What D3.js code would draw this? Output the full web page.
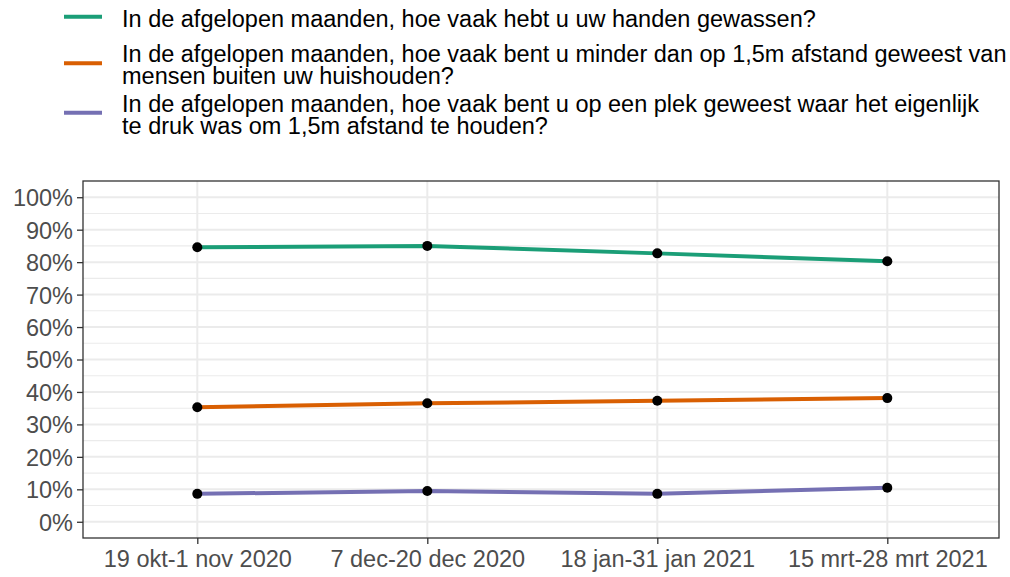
<!DOCTYPE html>
<html>
<head>
<meta charset="utf-8">
<script src="https://cdn.jsdelivr.net/npm/d3@7"></script>
<style>
  body { margin: 0; background: #fff; }
  svg { font-family: "Liberation Sans", Arial, sans-serif; }
  .grid line { stroke: #ebebeb; }
</style>
</head>
<body>
<div id="chart"></div>
<script>
// survey waves (x categories)
var waves = ["19 okt-1 nov 2020", "7 dec-20 dec 2020", "18 jan-31 jan 2021", "15 mrt-28 mrt 2021"];

// questions (legend), each a list of text lines
var questions = [
  ["In de afgelopen maanden, hoe vaak hebt u uw handen gewassen?"],
  ["In de afgelopen maanden, hoe vaak bent u minder dan op 1,5m afstand geweest van", "mensen buiten uw huishouden?"],
  ["In de afgelopen maanden, hoe vaak bent u op een plek geweest waar het eigenlijk", "te druk was om 1,5m afstand te houden?"]
];

// percentages per question, per wave
var handen = [84.6, 85.0, 82.7, 80.3];
var afstand = [35.3, 36.5, 37.3, 38.1];
var drukte = [8.6, 9.5, 8.6, 10.5];
var series = [handen, afstand, drukte];

var yTicks = [0, 10, 20, 30, 40, 50, 60, 70, 80, 90, 100];
var yMinor = [5, 15, 25, 35, 45, 55, 65, 75, 85, 95];

var colors = ["#1b9e77", "#d95f02", "#7570b3"];

var width = 1010, height = 577;
var pLeft = 83, pRight = 999, pTop = 181, pBottom = 538;

var svg = d3.select("#chart").append("svg").attr("width", width).attr("height", height);

var x = d3.scaleLinear().domain([0, 3]).range([197.3, 887.3]);
var y = d3.scaleLinear().domain([-5, 105]).range([pBottom, pTop]);

// grid
var grid = svg.append("g").attr("class", "grid");
grid.selectAll("line.minor").data(yMinor).enter().append("line").attr("class", "minor")
  .attr("x1", pLeft).attr("x2", pRight).attr("y1", function(d) { return y(d); }).attr("y2", function(d) { return y(d); })
  .attr("stroke-width", 1.1);
grid.selectAll("line.major").data(yTicks).enter().append("line").attr("class", "major")
  .attr("x1", pLeft).attr("x2", pRight).attr("y1", function(d) { return y(d); }).attr("y2", function(d) { return y(d); })
  .attr("stroke-width", 2);
grid.selectAll("line.vert").data(waves).enter().append("line").attr("class", "vert")
  .attr("y1", pTop).attr("y2", pBottom).attr("x1", function(d, i) { return x(i); }).attr("x2", function(d, i) { return x(i); })
  .attr("stroke-width", 2);

// lines + points
var line = d3.line().x(function(d, i) { return x(i); }).y(function(d) { return y(d); });
svg.append("g").selectAll("path").data(series).enter().append("path")
  .attr("d", line).attr("fill", "none").attr("stroke-width", 4)
  .attr("stroke", function(d, i) { return colors[i]; });

svg.append("g").selectAll("g").data(series).enter().append("g")
  .selectAll("circle").data(function(d) { return d; }).enter().append("circle")
  .attr("cx", function(d, i) { return x(i); }).attr("cy", function(d) { return y(d); })
  .attr("r", 5).attr("fill", "#000");

// panel border
svg.append("rect").attr("x", pLeft).attr("y", pTop).attr("width", pRight - pLeft).attr("height", pBottom - pTop)
  .attr("fill", "none").attr("stroke", "#333").attr("stroke-width", 1.3);

// axes
var yAxis = svg.append("g").attr("transform", "translate(" + pLeft + ",0)")
  .call(d3.axisLeft(y).tickValues(yTicks).tickSize(6).tickPadding(4).tickFormat(function(d) { return d + "%"; }));
var xAxis = svg.append("g").attr("transform", "translate(0," + pBottom + ")")
  .call(d3.axisBottom(x).tickValues([0, 1, 2, 3]).tickSize(6).tickPadding(4).tickFormat(function(i) { return waves[i]; }));
[yAxis, xAxis].forEach(function(a) {
  a.select(".domain").remove();
  a.selectAll(".tick line").attr("stroke", "#333").attr("stroke-width", 1.3);
  a.selectAll(".tick text").attr("fill", "#4d4d4d").style("font-size", "23.5px");
});
yAxis.selectAll(".tick text").attr("dy", "0.36em");
xAxis.selectAll(".tick text").attr("dy", "0.8em");

// legend
var legendY = [16.7, 63.3, 112.7];
var leg = svg.append("g").selectAll("g").data(questions).enter().append("g")
  .attr("transform", function(d, i) { return "translate(0," + legendY[i] + ")"; });
leg.append("line").attr("x1", 64).attr("x2", 102).attr("y1", 0).attr("y2", 0)
  .attr("stroke-width", 4).attr("stroke", function(d, i) { return colors[i]; });
leg.each(function(lines) {
  var n = lines.length;
  var g = d3.select(this);
  lines.forEach(function(t, j) {
    g.append("text").attr("x", 122).attr("y", 10 + (j - (n - 1) / 2) * 22)
      .style("font-size", "23.5px").attr("fill", "#000").text(t);
  });
});
</script>
</body>
</html>
